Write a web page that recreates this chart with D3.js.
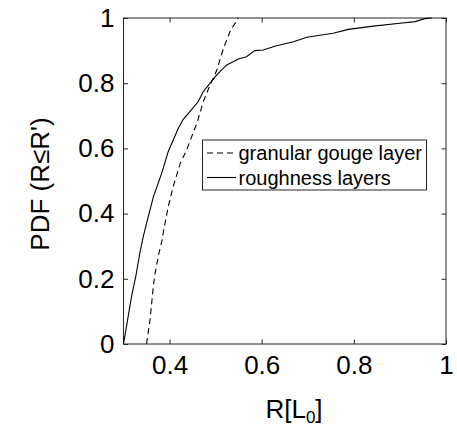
<!DOCTYPE html>
<html><head><meta charset="utf-8">
<script src="https://cdn.jsdelivr.net/npm/d3@7"></script>
<style>
html,body{margin:0;padding:0;background:#fff;}
text{font-family:"Liberation Sans",Arial,sans-serif;fill:#000;}
</style></head>
<body><svg id="c" width="457" height="445"></svg>
<script>
const roughX = [0.300,0.318,0.327,0.336,0.343,0.349,0.365,0.383,0.397,0.408,0.419,0.430,0.444,0.462,0.473,0.488,0.502,0.524,0.538,0.549,0.567,0.585,0.603,0.632,0.669,0.698,0.755,0.788,0.842,0.900,0.933,0.954,0.969];
const roughY = [0.000,0.150,0.210,0.283,0.330,0.365,0.452,0.524,0.590,0.626,0.662,0.690,0.713,0.743,0.774,0.800,0.825,0.856,0.866,0.874,0.881,0.900,0.902,0.915,0.927,0.941,0.953,0.965,0.975,0.984,0.989,0.998,1.000];
const granX = [0.350,0.358,0.365,0.368,0.376,0.383,0.388,0.397,0.408,0.423,0.437,0.448,0.460,0.473,0.488,0.502,0.517,0.531,0.549];
const granY = [0.000,0.079,0.181,0.212,0.273,0.314,0.355,0.421,0.483,0.554,0.595,0.636,0.680,0.743,0.795,0.838,0.907,0.958,1.000];
const xTicks = [0.4,0.6,0.8,1];
const yTicks = [0,0.2,0.4,0.6,0.8,1];
const xTickLabels = ["0.4","0.6","0.8","1"];
const yTickLabels = ["0","0.2","0.4","0.6","0.8","1"];
const seriesNames = ["granular gouge layer","roughness layers"];

const L=123.5, R=446, T=18, B=344;
const svg = d3.select("#c");
const x = d3.scaleLinear().domain([0.3,1]).range([L,R]);
const y = d3.scaleLinear().domain([0,1]).range([B,T]);
const axCol = "#262626", tl = 4.5;

// box
svg.append("rect").attr("x",L).attr("y",T).attr("width",R-L).attr("height",B-T)
  .attr("fill","none").attr("stroke",axCol).attr("stroke-width",1);

function styleAxis(g){
  g.select(".domain").remove();
  g.selectAll(".tick line").attr("stroke",axCol).attr("stroke-width",1);
  g.selectAll(".tick text").style("font-size","26px").attr("fill","#000");
}
const xb = svg.append("g").attr("transform",`translate(0,${B})`)
  .call(d3.axisBottom(x).tickValues(xTicks).tickFormat((d,i)=>xTickLabels[i]).tickSize(-tl).tickPadding(12));
styleAxis(xb);
const xt = svg.append("g").attr("transform",`translate(0,${T})`)
  .call(d3.axisTop(x).tickValues(xTicks).tickFormat("").tickSize(-tl));
styleAxis(xt);
const yl = svg.append("g").attr("transform",`translate(${L},0)`)
  .call(d3.axisLeft(y).tickValues(yTicks).tickFormat((d,i)=>yTickLabels[i]).tickSize(-tl).tickPadding(9));
styleAxis(yl);
const yr = svg.append("g").attr("transform",`translate(${R},0)`)
  .call(d3.axisRight(y).tickValues(yTicks).tickFormat("").tickSize(-tl));
styleAxis(yr);

const line = d3.line().x(d=>x(d[0])).y(d=>y(d[1]));
const rough = roughX.map((v,i)=>[v,roughY[i]]);
const gran = granX.map((v,i)=>[v,granY[i]]);
svg.append("path").datum(rough).attr("d",line).attr("fill","none").attr("stroke","#000").attr("stroke-width",1.1);
svg.append("path").datum(gran).attr("d",line).attr("fill","none").attr("stroke","#000").attr("stroke-width",1.1).attr("stroke-dasharray","6,4");

// legend
const lg = svg.append("g");
lg.append("rect").attr("x",202.5).attr("y",140).attr("width",224).attr("height",50)
  .attr("fill","#fff").attr("stroke",axCol).attr("stroke-width",1);
const rows=[{y:153,dash:"6,4"},{y:177.5,dash:null}];
rows.forEach((r,i)=>{
  const l = lg.append("line").attr("x1",207).attr("x2",236).attr("y1",r.y).attr("y2",r.y)
    .attr("stroke","#000").attr("stroke-width",1.1);
  if(r.dash) l.attr("stroke-dasharray",r.dash);
  lg.append("text").attr("x",238.5).attr("y",r.y).attr("dy","0.35em").style("font-size","20px").text(seriesNames[i]);
});

// axis labels
const xl = svg.append("text").attr("x",294).attr("y",418).attr("text-anchor","middle").style("font-size","26px");
xl.append("tspan").text("R[L");
xl.append("tspan").attr("dy",5).style("font-size","17px").text("0");
xl.append("tspan").attr("dy",-5).text("]");
svg.append("text").attr("transform","translate(49,184) rotate(-90)").attr("text-anchor","middle")
  .style("font-size","26px").text("PDF (R≤R')");
</script></body></html>
